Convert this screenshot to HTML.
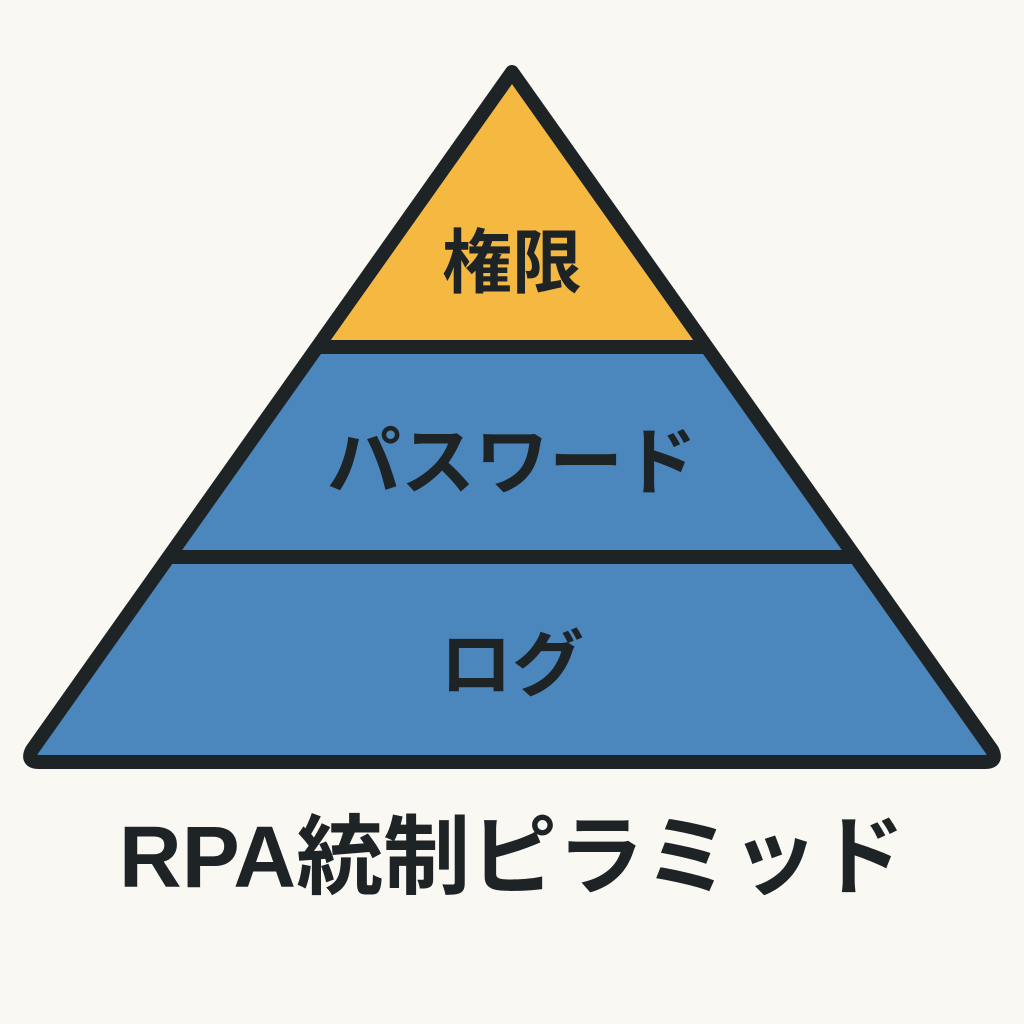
<!DOCTYPE html>
<html><head><meta charset="utf-8"><style>
html,body{margin:0;padding:0;background:#faf8f3;}
svg{display:block}
text{font-family:"Liberation Sans","Noto Sans CJK JP",sans-serif;font-weight:bold;fill:#1e2326;text-anchor:middle}
</style></head><body>
<svg width="1024" height="1024" viewBox="0 0 1024 1024">
<rect width="1024" height="1024" fill="#faf8f3"/>
<defs><clipPath id="c"><path d="M512 72 L992 758 L32 758 Z"/></clipPath></defs>
<g clip-path="url(#c)">
<rect x="0" y="0" width="1024" height="347" fill="#f5b942"/>
<rect x="0" y="347" width="1024" height="420" fill="#4b87bd"/>
<line x1="100" y1="347" x2="924" y2="347" stroke="#1e2326" stroke-width="14"/>
<line x1="100" y1="557" x2="924" y2="557" stroke="#1e2326" stroke-width="14"/>
</g>
<path d="M512 72 L992 750 Q998 762 985 762 L39 762 Q26 762 32 750 Z" fill="none" stroke="#1e2326" stroke-width="14" stroke-linejoin="round"/>
<text x="512" y="287" font-size="70">権限</text>
<text x="512" y="488" font-size="74">パスワード</text>
<text x="512" y="690" font-size="72">ログ</text>
<text x="512" y="887" font-size="87">RPA統制ピラミッド</text>
</svg>
</body></html>
